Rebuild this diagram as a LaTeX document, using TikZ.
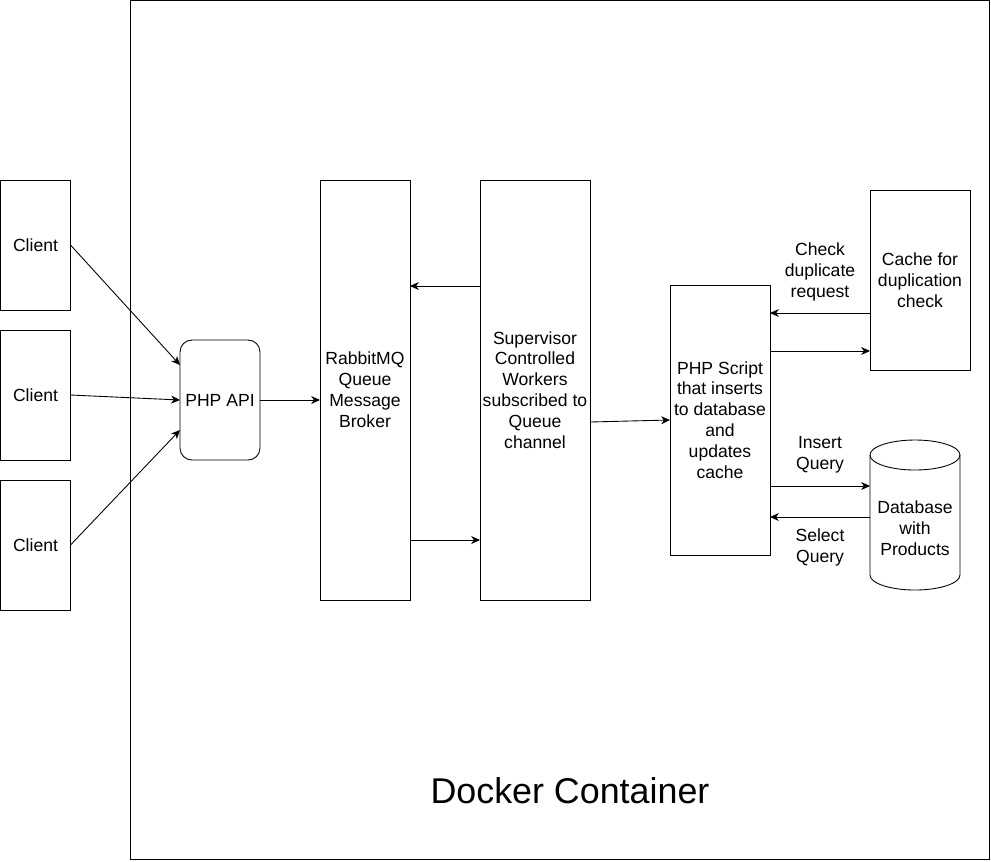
\documentclass[tikz,border=0pt]{standalone}
\usepackage{fontspec}
\setmainfont{Liberation Sans}
\usetikzlibrary{arrows.meta}

\tikzset{
  box/.style={draw, line width=0.5pt, align=center, inner xsep=1pt, inner ysep=0pt, outer sep=0pt},
  flow/.style={-{Stealth[length=5pt,width=4.5pt,inset=1.5pt]}, line width=0.5pt},
  note/.style={align=center}
}

\begin{document}
\begin{tikzpicture}[font=\fontsize{10}{11.9}\selectfont]
  \useasboundingbox (0,0) rectangle (19.82,-17.22);

  \node[box, minimum width=17.18cm, minimum height=17.18cm] (docker) at (11.205,-8.605) {};
  \node[font=\fontsize{20.4}{24}\selectfont] (dockertext) at (11.4,-15.82) {Docker Container};

  \node[box, minimum width=1.4cm, minimum height=2.6cm] (c1) at (0.71,-4.9) {Client};
  \node[box, minimum width=1.4cm, minimum height=2.6cm] (c2) at (0.71,-7.9) {Client};
  \node[box, minimum width=1.4cm, minimum height=2.6cm] (c3) at (0.71,-10.9) {Client};

  \node[box, rounded corners=0.24cm, minimum width=1.6cm, minimum height=2.4cm] (api) at (4.4,-8.0) {PHP API};
  \node[box, minimum width=1.8cm, minimum height=8.4cm] (rabbit) at (7.3,-7.8) {RabbitMQ\\Queue\\Message\\Broker};
  \node[box, minimum width=2.2cm, minimum height=8.4cm] (sup) at (10.7,-7.8) {Supervisor\\Controlled\\Workers\\subscribed to\\Queue\\channel};
  \node[box, minimum width=2cm, minimum height=5.4cm] (script) at (14.4,-8.4) {PHP Script\\that inserts\\to database\\and\\updates\\cache};
  \node[box, minimum width=2cm, minimum height=3.6cm] (cache) at (18.4,-5.6) {Cache for\\duplication\\check};

  \node[minimum width=1.8cm, minimum height=3cm, inner sep=0pt, outer sep=0pt] (db) at (18.3,-10.3) {};
  \draw[line width=0.5pt] ([yshift=-0.3cm]db.north) ellipse [x radius=0.9cm, y radius=0.3cm];
  \draw[line width=0.5pt] ([yshift=-0.3cm]db.north west) -- ([yshift=0.3cm]db.south west)
    arc[start angle=180, end angle=360, x radius=0.9cm, y radius=0.3cm]
    -- ([yshift=-0.3cm]db.north east);
  \node[note] (dbtext) at ([yshift=-0.26cm]db.center) {Database\\with\\Products};

  \draw[flow] (c1.east) -- ([yshift=0.7cm]api.west);
  \draw[flow] (c2.east) -- (api.west);
  \draw[flow] (c3.east) -- ([yshift=-0.6cm]api.west);
  \draw[flow] (api.east) -- (api.east -| rabbit.west);

  \draw[flow] ([yshift=2.08cm]sup.west) -- ([yshift=2.08cm]rabbit.east);
  \draw[flow] ([yshift=-3cm]rabbit.east) -- ([yshift=-3cm]sup.west);
  \draw[flow] ([yshift=-0.64cm]sup.east) -- (script.west);

  \draw[flow] ([yshift=-0.66cm]cache.west) -- node[note, above=3pt] (checklbl) {Check\\duplicate\\request} ([yshift=-0.66cm]cache.west -| script.east);
  \draw[flow] ([yshift=-1.42cm]cache.west -| script.east) -- ([yshift=-1.42cm]cache.west);

  \draw[flow] ([yshift=0.58cm]db.west -| script.east) -- node[note, above=4pt] (insertlbl) {Insert\\Query} ([yshift=0.58cm]db.west);
  \draw[flow] ([yshift=-0.04cm]db.west) -- node[note, below=3pt] (selectlbl) {Select\\Query} ([yshift=-0.04cm]db.west -| script.east);
\end{tikzpicture}
\end{document}
